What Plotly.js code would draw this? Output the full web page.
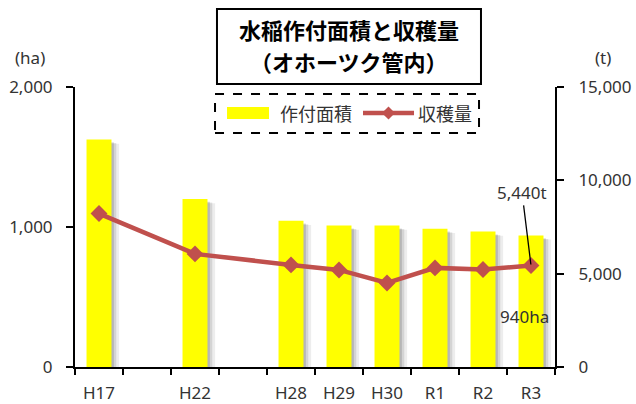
<!DOCTYPE html>
<html>
<head>
<meta charset="utf-8">
<script src="https://cdn.plot.ly/plotly-3.0.1.min.js"></script>
<style>body{margin:0;background:#fff}#chart{width:636px;height:404px}</style>
</head>
<body>
<div id="chart"></div>
<script>
// slots on the category axis (blank slots are gaps between survey years)
var slots = ['H17', ' ', 'H22', '  ', 'H28', 'H29', 'H30', 'R1', 'R2', 'R3'];
var years = ['H17', 'H22', 'H28', 'H29', 'H30', 'R1', 'R2', 'R3'];
var areaHa = [1625, 1200, 1045, 1010, 1010, 988, 967, 940];      // 作付面積 (ha)
var harvestT = [8220, 6060, 5470, 5200, 4500, 5310, 5220, 5440]; // 収穫量 (t)
var leftTicks = [0, 1000, 2000];
var rightTicks = [0, 5000, 10000, 15000];
var seriesNames = ['作付面積', '収穫量'];
var titleLines = ['水稲作付面積と収穫量', '（オホーツク管内）'];

var numFont = 'Noto Sans, DejaVu Sans, sans-serif';
var jpFont = 'Noto Sans CJK JP, sans-serif';
var textCol = '#333';
var BW = 0.52;
var barColor = '#FFFF00';
var lineColor = '#C0504D';

function fmt(v) { return v.toLocaleString('en-US'); }

var traces = [
  { type: 'bar', x: years, y: areaHa, yaxis: 'y', showlegend: false, hoverinfo: 'skip',
    width: BW, offset: -BW/2 + 0.16, base: -30,
    marker: { color: 'rgba(0,0,0,0.07)', line: { width: 0 } } },
  { type: 'bar', x: years, y: areaHa, yaxis: 'y', showlegend: false, hoverinfo: 'skip',
    width: BW, offset: -BW/2 + 0.1, base: -25,
    marker: { color: 'rgba(0,0,0,0.10)', line: { width: 0 } } },
  { type: 'bar', x: years, y: areaHa, yaxis: 'y', showlegend: false, hoverinfo: 'skip',
    width: BW, offset: -BW/2 + 0.05, base: -20,
    marker: { color: 'rgba(0,0,0,0.14)', line: { width: 0 } } },
  { type: 'bar', name: seriesNames[0], x: years, y: areaHa, yaxis: 'y', showlegend: false,
    width: BW, offset: -BW/2,
    marker: { color: barColor, line: { width: 0 } } },
  { type: 'scatter', mode: 'lines+markers', name: seriesNames[1], x: years, y: harvestT, yaxis: 'y2',
    showlegend: false,
    line: { color: lineColor, width: 4.5 },
    marker: { symbol: 'diamond', size: 13, color: lineColor } }
];

var axisCommon = {
  showline: true, linecolor: '#000', linewidth: 2,
  ticks: 'outside', ticklen: 7, tickwidth: 2, tickcolor: '#000',
  showgrid: false, zeroline: false,
  tickfont: { family: numFont, size: 17, color: textCol }
};

var layout = {
  width: 636, height: 404,
  margin: { l: 75, r: 81, t: 87, b: 37 },
  paper_bgcolor: '#fff', plot_bgcolor: '#fff',
  barmode: 'overlay',
  showlegend: false,
  font: { family: numFont, size: 17, color: textCol },
  xaxis: Object.assign({}, axisCommon, {
    type: 'category', categoryorder: 'array', categoryarray: slots,
    range: [-0.5, slots.length - 0.5], tickson: 'boundaries', ticklen: 6,
    ticklabelstandoff: 10
  }),
  yaxis: Object.assign({}, axisCommon, {
    range: [0, 2000], tickvals: leftTicks, ticktext: leftTicks.map(fmt),
    ticklabelstandoff: 10
  }),
  yaxis2: Object.assign({}, axisCommon, {
    overlaying: 'y', side: 'right',
    range: [0, 15000], tickvals: rightTicks, ticktext: rightTicks.map(fmt),
    ticklabelstandoff: 11
  }),
  shapes: [
    // title box
    { type: 'rect', xref: 'paper', yref: 'paper', x0: 0.2958, x1: 0.8458, y0: 1.0107, y1: 1.2786,
      line: { color: '#000', width: 2 }, fillcolor: '#fff', layer: 'below' },
    // dashed legend box
    { type: 'rect', xref: 'paper', yref: 'paper', x0: 0.2917, x1: 0.8417, y0: 0.8357, y1: 0.975,
      line: { color: '#000', width: 2, dash: 'dash' }, fillcolor: 'rgba(0,0,0,0)' },
    // legend swatch: bars
    { type: 'rect', xref: 'paper', yref: 'paper', x0: 0.3167, x1: 0.4042, y0: 0.8857, y1: 0.9286,
      line: { width: 0 }, fillcolor: barColor },
    // legend swatch: line
    { type: 'line', xref: 'paper', yref: 'paper', x0: 0.6, x1: 0.7063, y0: 0.9071, y1: 0.9071,
      line: { color: lineColor, width: 4.5 } },
    { type: 'path', xref: 'paper', yref: 'paper',
      path: 'M 0.6531 0.9307 L 0.6667 0.9071 L 0.6531 0.8835 L 0.6395 0.9071 Z',
      line: { width: 0 }, fillcolor: lineColor }
  ],
  annotations: [
    { xref: 'paper', yref: 'paper', x: 0.5708, y: 1.2071, xanchor: 'center', yanchor: 'middle',
      text: '<b>' + titleLines[0] + '</b>', showarrow: false,
      font: { family: jpFont, size: 22, color: '#000' } },
    { xref: 'paper', yref: 'paper', x: 0.5708, y: 1.0929, xanchor: 'center', yanchor: 'middle',
      text: '<b>' + titleLines[1] + '</b>', showarrow: false,
      font: { family: jpFont, size: 22, color: '#000' } },
    { xref: 'paper', yref: 'paper', x: 0.4229, y: 0.9071, xanchor: 'left', yanchor: 'middle',
      text: seriesNames[0], showarrow: false, font: { family: jpFont, size: 18, color: textCol } },
    { xref: 'paper', yref: 'paper', x: 0.7104, y: 0.9071, xanchor: 'left', yanchor: 'middle',
      text: seriesNames[1], showarrow: false, font: { family: jpFont, size: 18, color: textCol } },
    { xref: 'paper', yref: 'paper', x: -0.094, y: 1.1036, xanchor: 'center', yanchor: 'middle',
      text: '(ha)', showarrow: false, font: { family: numFont, size: 17, color: textCol } },
    { xref: 'paper', yref: 'paper', x: 1.1, y: 1.1036, xanchor: 'center', yanchor: 'middle',
      text: '(t)', showarrow: false, font: { family: numFont, size: 17, color: textCol } },
    { xref: 'x', yref: 'y2', x: years[years.length-1], y: harvestT[harvestT.length-1],
      text: fmt(harvestT[harvestT.length-1]) + 't', showarrow: true,
      arrowhead: 0, arrowwidth: 1.3, arrowcolor: '#000', ax: -9, ay: -73, standoff: 1,
      font: { family: numFont, size: 17, color: textCol } },
    { xref: 'x', yref: 'paper', x: years[years.length-1], y: 0.1786, xshift: -7,
      xanchor: 'center', yanchor: 'middle',
      text: areaHa[areaHa.length-1] + 'ha', showarrow: false,
      font: { family: numFont, size: 17, color: textCol } }
  ]
};

Plotly.newPlot('chart', traces, layout, { staticPlot: true, displayModeBar: false });
</script>
</body>
</html>
